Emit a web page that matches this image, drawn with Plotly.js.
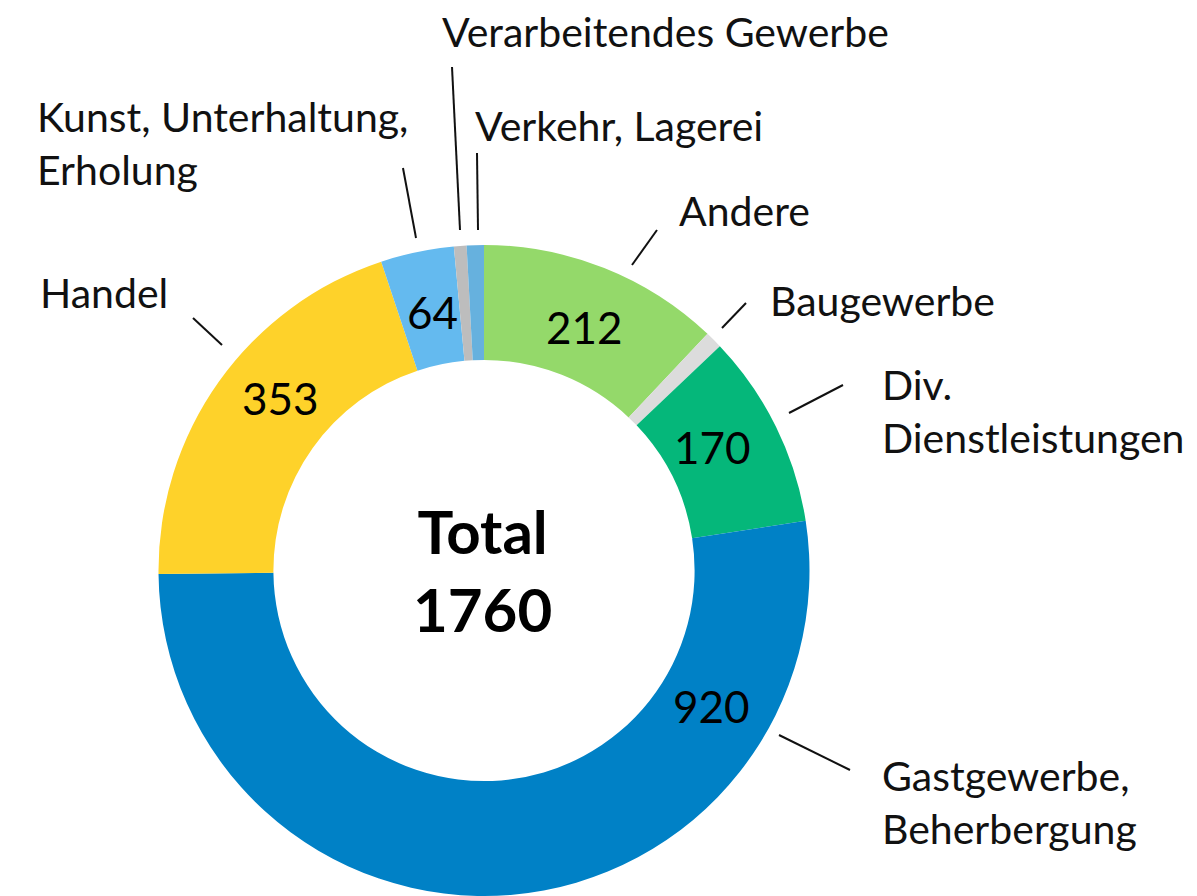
<!DOCTYPE html>
<html>
<head>
<meta charset="utf-8">
<script src="https://cdn.plot.ly/plotly-3.0.1.min.js"></script>
<style>
html,body{margin:0;padding:0;background:#fff;}
#chart{width:1197px;height:896px;}
</style>
</head>
<body>
<div id="chart"></div>
<script>
// ---- data ----
const categories = ["Andere", "Baugewerbe", "Div. Dienstleistungen", "Gastgewerbe, Beherbergung", "Handel", "Kunst, Unterhaltung, Erholung", "Verarbeitendes Gewerbe", "Verkehr, Lagerei"];
const labelTexts = ["Andere", "Baugewerbe", "Div.<br>Dienstleistungen", "Gastgewerbe,<br>Beherbergung", "Handel", "Kunst, Unterhaltung,<br>Erholung", "Verarbeitendes Gewerbe", "Verkehr, Lagerei"];
const values = [212, 15, 170, 920, 353, 64, 11, 15];
const showValue = [true, false, true, true, true, true, false, false];
const colors = ["#94d96a", "#dcdcdc", "#05b77a", "#0081c6", "#fed22a", "#64baef", "#bdbdbd", "#66b1de"];

// ---- layout helpers (pixel positions of text and leader lines) ----
const W = 1197, H = 896;
const FONT = "Lato, 'Noto Sans', sans-serif";
const px = (x) => x / W;
const py = (y) => 1 - y / H;

// outside label anchors [left x, middle y] per category
const labelPos = [[677, 210], [768, 300], [880, 411], [880, 802], [38, 292], [35, 143], [440, 32], [473, 125]];
// leader lines [x0, y0, x1, y1] per category
const leaders = [[657, 230, 632, 265], [746, 303, 722, 328], [843, 385, 789, 413], [779, 735, 850, 770], [193, 318, 222, 345], [403, 168, 416, 238], [452, 67, 460, 230], [477, 153, 478, 230]];
// value label centres per category
const valuePos = [[584, 327], null, [712, 447], [711, 706], [280, 398], [432, 312], null, null];

const total = values.reduce((a, b) => a + b, 0);

const trace = {
  type: "pie",
  labels: categories,
  values: values,
  sort: false,
  direction: "clockwise",
  rotation: 0,
  hole: 0.647,
  marker: {colors: colors, line: {width: 0}},
  textinfo: "none",
  hoverinfo: "label+value",
  showlegend: false,
  domain: {x: [158 / W, 810 / W], y: [0, 651 / H]}
};

const annotations = [];
const shapes = [];
categories.forEach((c, i) => {
  annotations.push({
    xref: "paper", yref: "paper",
    x: px(labelPos[i][0]), y: py(labelPos[i][1]),
    xanchor: "left", yanchor: "middle", align: "left",
    text: labelTexts[i], showarrow: false,
    font: {family: FONT, size: 41, color: "#111"}
  });
  const l = leaders[i];
  shapes.push({
    type: "line", xref: "paper", yref: "paper",
    x0: px(l[0]), y0: py(l[1]), x1: px(l[2]), y1: py(l[3]),
    line: {color: "#111", width: 2}
  });
  if (showValue[i] && valuePos[i]) {
    annotations.push({
      xref: "paper", yref: "paper",
      x: px(valuePos[i][0]), y: py(valuePos[i][1]),
      xanchor: "center", yanchor: "middle",
      text: String(values[i]), showarrow: false,
      font: {family: FONT, size: 44, color: "#000"}
    });
  }
});
annotations.push({
  xref: "paper", yref: "paper",
  x: px(482), y: py(570),
  xanchor: "center", yanchor: "middle", align: "center",
  text: "<b>Total<br>" + total + "</b>", showarrow: false,
  font: {family: FONT, size: 60, color: "#000"}
});

const layout = {
  width: W, height: H,
  margin: {l: 0, r: 0, t: 0, b: 0},
  paper_bgcolor: "#fff",
  plot_bgcolor: "#fff",
  showlegend: false,
  annotations: annotations,
  shapes: shapes
};

Plotly.newPlot("chart", [trace], layout, {displayModeBar: false, staticPlot: true});
</script>
</body>
</html>
